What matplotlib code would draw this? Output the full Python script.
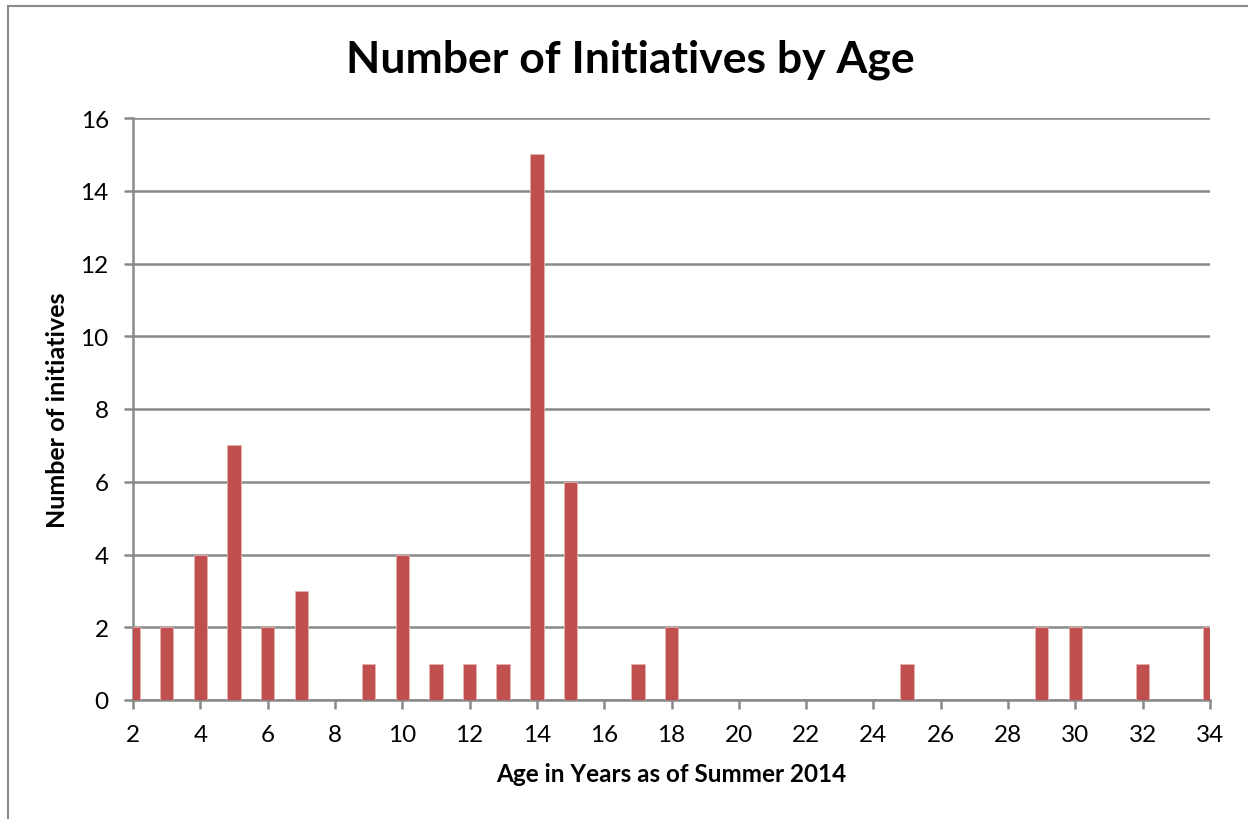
import matplotlib.pyplot as plt
from matplotlib.patches import Rectangle

plt.rcParams['font.family'] = ['Lato', 'DejaVu Sans']

# initiatives counted per age (years as of summer 2014)
ages = [2, 3, 4, 5, 6, 7, 9, 10, 11, 12, 13, 14, 15, 17, 18, 25, 29, 30, 32, 34]
counts = [2, 2, 4, 7, 2, 3, 1, 4, 1, 1, 1, 15, 6, 1, 2, 1, 2, 2, 1, 2]

xticks = list(range(2, 35, 2))
yticks = list(range(0, 17, 2))

grey = '#898989'
barcol = '#C0504D'

fig = plt.figure(figsize=(12.48, 8.2), dpi=100)
ax = fig.add_axes([133 / 1248, 1 - 701 / 820, (1210 - 133) / 1248, (701 - 119) / 820])

# chart area border
fig.patches.append(Rectangle((8 / 1248, -0.1), 1.2, 1 - 7 / 820 + 0.1,
                             transform=fig.transFigure, fill=False,
                             edgecolor=grey, linewidth=1.5))

ax.bar(ages, counts, width=0.4, color=barcol, edgecolor='#e8b0ae', linewidth=0.6, zorder=3)

ax.set_xlim(2, 34)
ax.set_ylim(0, 16)
ax.set_xticks(xticks)
ax.set_yticks(yticks)
ax.yaxis.grid(True, color=grey, linewidth=1.8, zorder=1)
ax.set_axisbelow(True)

for s in ['top', 'right']:
    ax.spines[s].set_visible(False)
for s in ['left', 'bottom']:
    ax.spines[s].set_color(grey)
    ax.spines[s].set_linewidth(1.8)

ax.tick_params(axis='both', colors=grey, labelcolor='black', labelsize=17.5,
               length=6.5, width=1.8, direction='out')
ax.tick_params(axis='x', pad=11)
ax.tick_params(axis='y', pad=11)

fig.text(630 / 1248, 1 - 60 / 820, 'Number of Initiatives by Age', fontsize=32,
         fontweight='bold', ha='center', va='center')
ax.set_xlabel('Age in Years as of Summer 2014', fontsize=17.5, fontweight='bold', labelpad=12)
ax.set_ylabel('Number of initiatives', fontsize=18, fontweight='bold', labelpad=8)

plt.savefig('out.png', dpi=100)
plt.close()
